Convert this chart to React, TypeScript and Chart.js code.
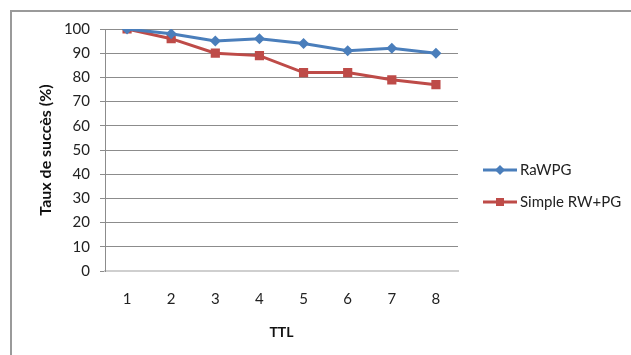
import React, { useEffect, useRef } from "react";
import { Chart, registerables } from "chart.js";

Chart.register(...registerables);

const categories = ["1", "2", "3", "4", "5", "6", "7", "8"];
const seriesNames = ["RaWPG", "Simple RW+PG"];
const rawpgValues = [100, 98, 95, 96, 94, 91, 92, 90];
const simpleValues = [100, 96, 90, 89, 82, 82, 79, 77];
const seriesColors = ["#4A7EBB", "#BE4B48"];
const seriesMarkers = ["rectRot", "rect"];

const FONT = "Lato, 'Liberation Sans', sans-serif";

const legendPlugin = {
  id: "customLegend",
  afterDraw(chart: any) {
    const ctx = chart.ctx;
    const x0 = 483;
    const x1 = 517;
    const ys = [170, 202];
    ctx.save();
    chart.data.datasets.forEach((ds: any, i: number) => {
      const y = ys[i];
      ctx.strokeStyle = ds.borderColor;
      ctx.lineWidth = 3;
      ctx.beginPath();
      ctx.moveTo(x0, y);
      ctx.lineTo(x1, y);
      ctx.stroke();
      ctx.fillStyle = ds.borderColor;
      const cx = (x0 + x1) / 2;
      ctx.beginPath();
      if (ds.pointStyle === "rectRot") {
        const r = 5;
        ctx.moveTo(cx, y - r);
        ctx.lineTo(cx + r, y);
        ctx.lineTo(cx, y + r);
        ctx.lineTo(cx - r, y);
        ctx.closePath();
      } else {
        ctx.rect(cx - 4, y - 4, 8, 8);
      }
      ctx.fill();
      ctx.fillStyle = "#222";
      ctx.font = `15px ${FONT}`;
      ctx.textAlign = "left";
      ctx.textBaseline = "middle";
      ctx.fillText(ds.label, 520, y);
    });
    ctx.restore();
  },
};

export default function App() {
  const ref = useRef<HTMLCanvasElement | null>(null);
  useEffect(() => {
    if (!ref.current) return;
    const values = [rawpgValues, simpleValues];
    const chart = new Chart(ref.current, {
      type: "line",
      data: {
        labels: categories,
        datasets: seriesNames.map((name, i) => ({
          label: name,
          data: values[i],
          borderColor: seriesColors[i],
          backgroundColor: seriesColors[i],
          borderWidth: 3,
          pointStyle: seriesMarkers[i] as any,
          pointRadius: i === 0 ? 5.5 : 6.5,
          pointBorderWidth: 0,
          tension: 0,
        })),
      },
      options: {
        animation: false,
        responsive: false,
        maintainAspectRatio: false,
        layout: { padding: { left: 0, top: 29, right: 173, bottom: 0 } },
        plugins: { legend: { display: false }, tooltip: { enabled: false } },
        scales: {
          x: {
            offset: true,
            grid: { display: false, drawTicks: false, offset: true },
            border: { display: true, color: "#cfcfcf", width: 2 },
            ticks: {
              padding: 19,
              color: "#222",
              font: { family: FONT, size: 15 },
            },
            title: {
              display: true,
              text: "TTL",
              color: "#111",
              font: { family: FONT, size: 14, weight: "bold" },
              padding: { top: 0, bottom: 14 },
            },
            afterFit(scale: any) {
              scale.height = 84;
            },
          },
          y: {
            min: 0,
            max: 100,
            ticks: {
              stepSize: 10,
              padding: 10,
              color: "#222",
              font: { family: FONT, size: 15 },
            },
            grid: {
              color: (c: any) => (c.tick && c.tick.value === 0 ? "rgba(0,0,0,0)" : "#8c8c8c"),
              tickColor: "#8c8c8c",
              tickLength: 5,
              lineWidth: 1,
            },
            border: { display: true, color: "#8c8c8c", width: 1 },
            title: {
              display: true,
              text: "Taux de succès (%)",
              color: "#111",
              font: { family: FONT, size: 16, weight: "bold" },
              padding: { top: 36, bottom: 0 },
            },
            afterFit(scale: any) {
              scale.width = 105;
            },
          },
        },
      },
      plugins: [legendPlugin],
    });
    return () => chart.destroy();
  }, []);
  return (
    <div style={{ position: "absolute", left: 0, top: 0, width: 631, height: 355, overflow: "hidden", background: "#fff" }}>
      <div
        style={{
          position: "absolute",
          left: 10,
          top: 10,
          width: 700,
          height: 500,
          border: "2px solid #9a9a9a",
          boxSizing: "border-box",
        }}
      />
      <canvas ref={ref} width={631} height={355} style={{ position: "absolute", left: 0, top: 0 }} />
    </div>
  );
}
